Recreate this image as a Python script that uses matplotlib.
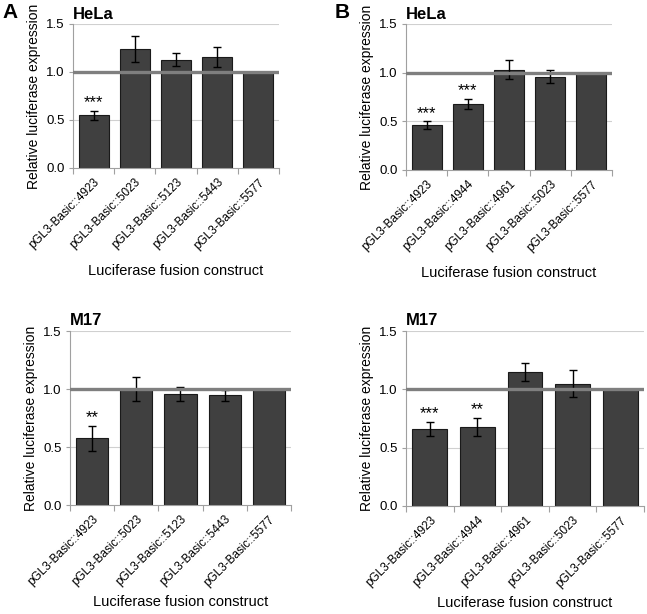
import matplotlib.pyplot as plt
import numpy as np

# data
labels_a = ["pGL3-Basic::4923", "pGL3-Basic::5023", "pGL3-Basic::5123",
            "pGL3-Basic::5443", "pGL3-Basic::5577"]
labels_b = ["pGL3-Basic::4923", "pGL3-Basic::4944", "pGL3-Basic::4961",
            "pGL3-Basic::5023", "pGL3-Basic::5577"]

hela_a = [0.55, 1.24, 1.13, 1.155, 1.0]
hela_a_err = [0.045, 0.135, 0.065, 0.107, 0.0]
hela_a_sig = ["***", "", "", "", ""]

hela_b = [0.46, 0.68, 1.03, 0.96, 1.0]
hela_b_err = [0.04, 0.05, 0.097, 0.063, 0.0]
hela_b_sig = ["***", "***", "", "", ""]

m17_a = [0.575, 1.0, 0.96, 0.945, 1.0]
m17_a_err = [0.107, 0.106, 0.06, 0.05, 0.0]
m17_a_sig = ["**", "", "", "", ""]

m17_b = [0.66, 0.68, 1.15, 1.047, 1.0]
m17_b_err = [0.063, 0.077, 0.076, 0.116, 0.0]
m17_b_sig = ["***", "**", "", "", ""]

W, H = 647, 614
fig = plt.figure(figsize=(W / 100, H / 100), dpi=100)
plt.rcParams['font.family'] = ['Liberation Sans', 'DejaVu Sans']


def px_axes(l, t, r, b):
    return fig.add_axes([l / W, 1 - b / H, (r - l) / W, (b - t) / H])


def panel(ax, vals, errs, sigs, labels, title, xpad):
    x = np.arange(len(vals))
    ax.set_xlim(-0.5, len(vals) - 0.5)
    ax.set_ylim(0, 1.5)
    for y in (0.5, 1.5):
        ax.axhline(y, color="#d0d0d0", lw=0.8, zorder=0)
    ax.bar(x, vals, width=0.73, color="#404040", edgecolor="#1a1a1a",
           lw=0.8, zorder=2)
    ax.errorbar(x, vals, yerr=errs, fmt="none", ecolor="black",
                elinewidth=1, capsize=3, capthick=1, zorder=3)
    ax.axhline(1.0, color="#7f7f7f", lw=2.4, zorder=4)
    for xi, v, e, s in zip(x, vals, errs, sigs):
        if s:
            ax.text(xi, v + e + 0.005, s, ha="center", va="bottom",
                    fontsize=12)
    for sp in ("top", "right"):
        ax.spines[sp].set_visible(False)
    for sp in ("left", "bottom"):
        ax.spines[sp].set_color("#a0a0a0")
    ax.set_yticks([0, 0.5, 1.0, 1.5])
    ax.set_yticklabels(["0.0", "0.5", "1.0", "1.5"], fontsize=9.5)
    ax.tick_params(axis="y", length=3, color="#a0a0a0", pad=3)
    ax.set_xticks(np.arange(-0.5, len(vals), 1.0))
    ax.set_xticklabels([])
    ax.tick_params(axis="x", which="major", length=4, color="#a0a0a0")
    ax.set_xticks(x, minor=True)
    ax.set_xticklabels(labels, minor=True, rotation=45, ha="right",
                       rotation_mode="anchor", fontsize=8.5)
    ax.tick_params(axis="x", which="minor", length=0, pad=6)
    ax.set_ylabel("Relative luciferase expression", fontsize=10)
    ax.set_xlabel("Luciferase fusion construct", fontsize=10.5, labelpad=xpad)
    ax.text(0.0, 1.015, title, transform=ax.transAxes, fontsize=12,
            fontweight="bold", ha="left", va="bottom")


ax1 = px_axes(73, 24, 279, 168)
panel(ax1, hela_a, hela_a_err, hela_a_sig, labels_a, "HeLa", 9)
ax2 = px_axes(406, 24, 612, 170)
panel(ax2, hela_b, hela_b_err, hela_b_sig, labels_b, "HeLa", 9)
ax3 = px_axes(70, 331, 291, 505)
panel(ax3, m17_a, m17_a_err, m17_a_sig, labels_a, "M17", 5)
ax4 = px_axes(406, 331, 644, 506)
panel(ax4, m17_b, m17_b_err, m17_b_sig, labels_b, "M17", 5)

fig.text(2 / W, 1 - 3 / H, "A", fontsize=15, fontweight="bold", va="top")
fig.text(335 / W, 1 - 3 / H, "B", fontsize=15, fontweight="bold", va="top")

plt.savefig("out.png", dpi=100)
